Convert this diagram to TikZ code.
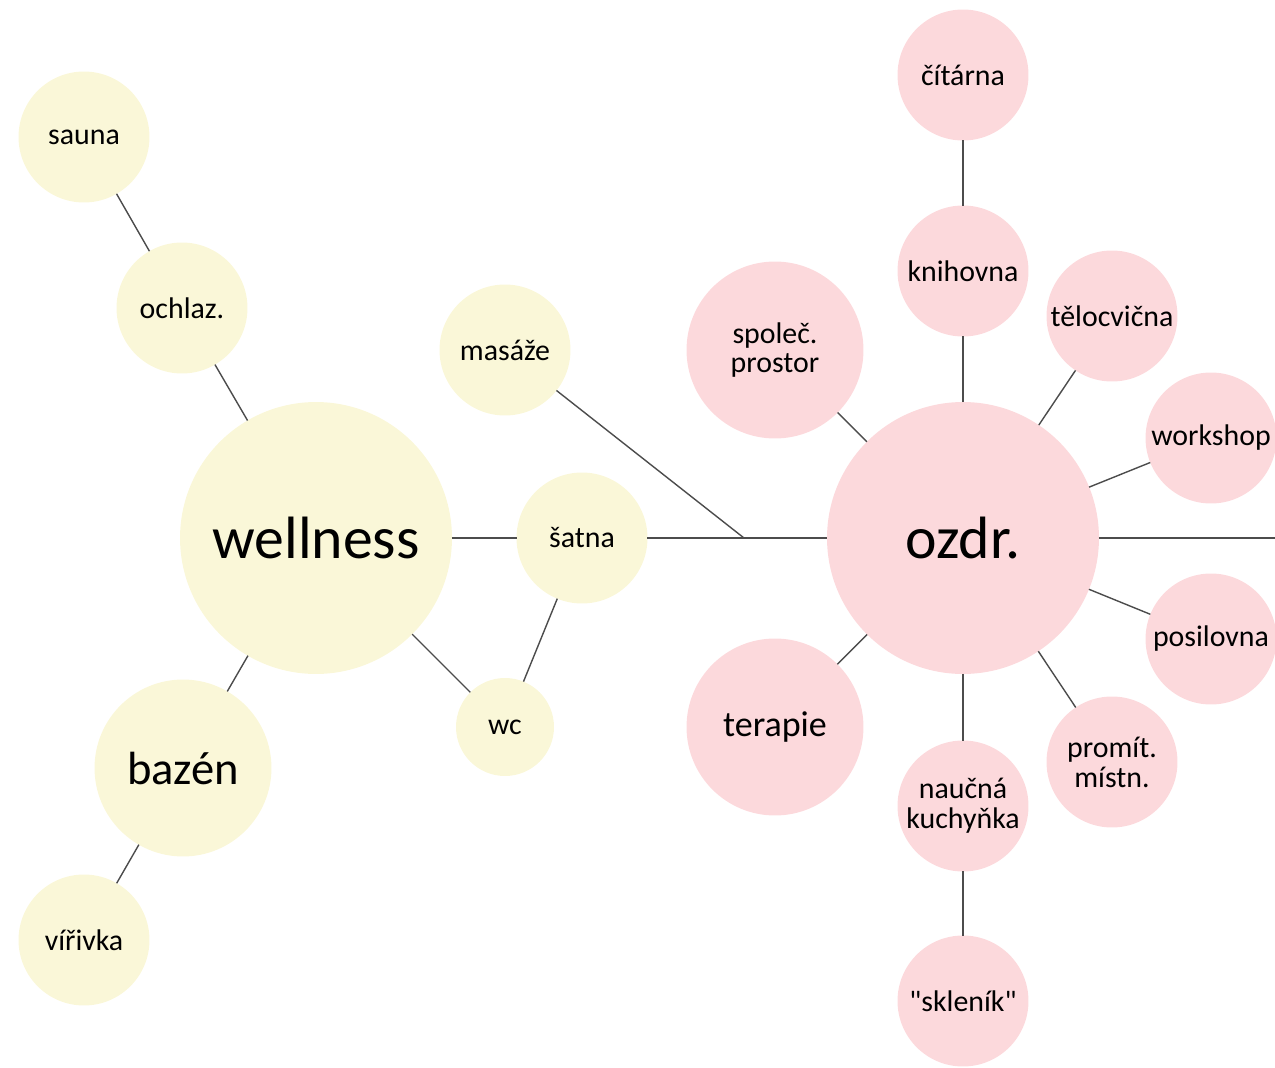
\documentclass[tikz,border=0pt]{standalone}
\usepackage{fontspec}
\setmainfont{Carlito}[Ligatures=TeXOff]
\definecolor{wellnessyellow}{RGB}{250,247,216}
\definecolor{ozdrpink}{RGB}{252,217,220}
\begin{document}
\begin{tikzpicture}[x=0.02cm,y=-0.02cm,
  bub/.style={circle,inner sep=0pt,outer sep=0pt,align=center,font=\fontsize{17}{17}\selectfont},
  smallbub/.style={bub,minimum size=2.62cm},
  midbub/.style={bub,minimum size=3.54cm},
  bigbub/.style={bub,minimum size=5.44cm,font=\fontsize{34}{34}\selectfont},
  yel/.style={fill=wellnessyellow},
  pink/.style={fill=ozdrpink},
  spoj/.style={draw=black!70,line width=0.8pt}]
\useasboundingbox (0,0) rectangle (1275,1068);
% wellness
\node[bigbub,yel] (wellness) at (316,538) {wellness};
\node[smallbub,yel] (sauna) at (84,137) {sauna};
\node[smallbub,yel] (ochlaz) at (182,308) {ochlaz.};
\node[midbub,yel,font=\fontsize{26.5}{26.5}\selectfont] (bazen) at (183,768) {bazén};
\node[smallbub,yel] (virivka) at (84,940) {vířivka};
\node[smallbub,yel] (masaze) at (505,350) {masáže};
\node[smallbub,yel] (satna) at (582,538) {šatna};
\node[bub,yel,minimum size=1.96cm] (wc) at (505,727) {wc};
% ozdr.
\node[bigbub,pink] (ozdr) at (963,538) {ozdr.};
\node[smallbub,pink] (citarna) at (963,75) {čítárna};
\node[smallbub,pink] (knihovna) at (963,271) {knihovna};
\node[midbub,pink] (spolec) at (775,350) {společ.\\prostor};
\node[smallbub,pink] (telocvicna) at (1112,316) {tělocvična};
\node[smallbub,pink] (workshop) at (1211,438) {workshop};
\node[smallbub,pink] (posilovna) at (1211,639) {posilovna};
\node[smallbub,pink] (promit) at (1112,762) {promít.\\místn.};
\node[midbub,pink,font=\fontsize{20.5}{20.5}\selectfont] (terapie) at (775,727) {terapie};
\node[smallbub,pink] (kuchynka) at (963,806) {naučná\\kuchyňka};
\node[smallbub,pink] (sklenik) at (963,1001) {"skleník"};
\coordinate (uzel) at (744,538);
\coordinate (rand) at (1275,538);
% spojnice
\foreach \a/\b in {sauna/ochlaz,ochlaz/wellness,wellness/bazen,bazen/virivka,
  wellness/satna,wellness/wc,satna/wc,masaze/uzel,satna/uzel,uzel/ozdr,ozdr/rand,
  ozdr/knihovna,knihovna/citarna,ozdr/spolec,ozdr/telocvicna,ozdr/workshop,
  ozdr/posilovna,ozdr/promit,ozdr/terapie,ozdr/kuchynka,kuchynka/sklenik}
  \draw[spoj] (\a) -- (\b);
\end{tikzpicture}
\end{document}
